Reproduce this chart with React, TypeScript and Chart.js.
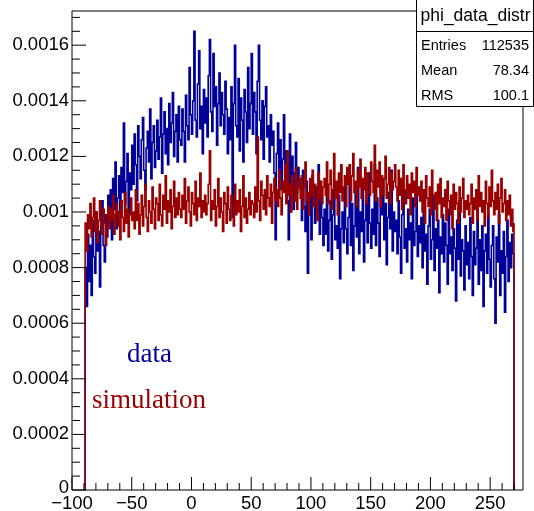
import React, { useEffect, useRef } from "react";
import { Chart, registerables } from "chart.js";

Chart.register(...registerables);

// Histogram binning (phi in degrees)
const X_MIN = -90;
const BIN_WIDTH = 1;
// bin contents are given in units of 1e-5 (normalised)
const UNIT = 1e-5;

// "data" histogram, bins from -90 to 270 (1 degree each)
const dataValues = [
  80, 66, 92, 75, 88, 70, 97, 84, 78, 100, 86, 93, 73, 95, 104, 88, 82, 99, 91, 106,
  96, 108, 90, 112, 101, 118, 94, 105, 113, 99, 116, 107, 132, 103, 111, 121, 98, 114, 108, 124,
  110, 128, 117, 104, 131, 120, 112, 126, 134, 115, 108, 123, 129, 118, 137, 112, 125, 131, 116, 122,
  133, 119, 127, 141, 114, 128, 136, 121, 130, 117, 139, 125, 132, 143, 120, 129, 135, 118, 138, 126,
  124, 137, 129, 118, 142, 131, 126, 152, 135, 128, 140, 165, 133, 127, 146, 158, 130, 138, 121, 144,
  132, 141, 127, 149, 162, 136, 129, 157, 138, 145, 124, 139, 150, 131, 143, 135, 128, 147, 137, 121,
  134, 126, 145, 98, 139, 160, 131, 127, 148, 122, 141, 133, 118, 144, 136, 125, 152, 130, 139, 157,
  128, 143, 136, 121, 147, 160, 133, 126, 140, 119, 138, 145, 127, 131, 118, 135, 124, 129, 114, 90,
  121, 132, 113, 126, 108, 119, 135, 115, 122, 104, 90, 128, 110, 120, 101, 114, 125, 107, 116, 111,
  108, 97, 115, 102, 93, 111, 78, 99, 106, 90, 113, 103, 96, 109, 100, 117, 92, 105, 98, 88,
  101, 92, 108, 86, 97, 104, 83, 99, 111, 90, 95, 87, 106, 76, 94, 100, 89, 109, 94, 85,
  98, 112, 88, 103, 79, 95, 107, 91, 116, 85, 100, 93, 110, 82, 97, 104, 89, 114, 96, 87,
  101, 92, 117, 88, 105, 96, 84, 109, 99, 112, 90, 103, 81, 98, 107, 94, 115, 86, 100, 93,
  97, 85, 104, 91, 78, 99, 108, 87, 94, 82, 101, 90, 96, 76, 105, 88, 93, 110, 84, 95,
  89, 98, 80, 103, 86, 92, 74, 95, 101, 83, 90, 106, 79, 94, 87, 97, 71, 91, 85, 99,
  82, 96, 88, 74, 101, 85, 91, 79, 94, 87, 68, 97, 83, 104, 77, 90, 86, 72, 95, 81,
  89, 76, 98, 84, 70, 93, 81, 87, 102, 74, 90, 79, 95, 66, 86, 92, 78, 99, 83, 73,
  88, 95, 76, 60, 91, 82, 99, 70, 86, 78, 93, 64, 84, 97, 75, 89, 80, 92, 85, 81,
];

// "simulation" histogram, same binning
const simValues = [
  96, 86, 99, 94, 103, 91, 98, 105, 93, 100, 89, 97, 104, 95, 92, 101, 96, 88, 99, 102,
  94, 101, 97, 106, 92, 99, 103, 95, 100, 90, 104, 98, 93, 107, 96, 101, 91, 99, 105, 97,
  100, 94, 108, 97, 103, 92, 99, 106, 95, 102, 110, 98, 93, 104, 100, 96, 109, 101, 94, 105,
  103, 97, 110, 99, 95, 106, 101, 113, 96, 104, 100, 108, 94, 102, 111, 98, 105, 99, 107, 101,
  98, 106, 101, 112, 96, 104, 109, 100, 95, 107, 103, 99, 111, 97, 105, 102, 114, 98, 104, 100,
  106, 99, 103, 110, 122, 97, 104, 101, 108, 95, 102, 112, 98, 105, 100, 93, 107, 103, 96, 109,
  101, 97, 106, 103, 95, 110, 99, 104, 100, 108, 93, 102, 113, 98, 105, 96, 101, 107, 99, 104,
  103, 98, 109, 100, 127, 104, 97, 111, 106, 101, 108, 99, 113, 105, 102, 110, 96, 107, 112, 104,
  108, 102, 115, 105, 99, 111, 107, 117, 103, 122, 106, 110, 100, 113, 108, 104, 116, 101, 109, 112,
  105, 113, 101, 109, 118, 104, 107, 99, 112, 106, 115, 102, 110, 108, 97, 114, 105, 111, 103, 109,
  112, 106, 118, 103, 110, 115, 101, 108, 121, 105, 111, 99, 114, 107, 117, 104, 109, 113, 102, 116,
  110, 117, 104, 113, 121, 107, 111, 102, 115, 109, 119, 105, 112, 108, 116, 103, 114, 110, 106, 118,
  111, 107, 124, 104, 115, 109, 118, 102, 113, 106, 112, 120, 105, 110, 116, 103, 114, 108, 111, 117,
  109, 104, 115, 106, 112, 101, 117, 108, 103, 113, 105, 110, 99, 114, 107, 111, 102, 116, 106, 109,
  104, 111, 100, 108, 96, 113, 105, 102, 109, 99, 115, 106, 101, 107, 97, 110, 103, 112, 98, 105,
  102, 108, 97, 111, 104, 99, 106, 94, 110, 101, 107, 103, 96, 109, 100, 105, 112, 98, 104, 101,
  106, 99, 103, 110, 96, 105, 101, 108, 97, 113, 102, 107, 100, 104, 95, 111, 103, 98, 109, 102,
  115, 104, 99, 107, 101, 110, 96, 105, 112, 100, 103, 108, 97, 104, 99, 106, 95, 101, 93, 96,
];

const xTickValues = [-100, -50, 0, 50, 100, 150, 200, 250];
const xTickLabels = ["\u2212100", "\u221250", "0", "50", "100", "150", "200", "250"];
const yTickValues = [0, 0.0002, 0.0004, 0.0006, 0.0008, 0.001, 0.0012, 0.0014, 0.0016];
const yTickLabels = ["0", "0.0002", "0.0004", "0.0006", "0.0008", "0.001", "0.0012", "0.0014", "0.0016"];

const statsTitle = "phi_data_distr";
const statsNames = ["Entries", "Mean", "RMS"];
const statsNumbers = ["112535", "78.34", "100.1"];

const legendTexts = ["data", "simulation"];
const BLUE = "#000099";
const RED = "#990000";

const X_AXIS_MIN = -100;
const X_AXIS_MAX = 277.5;
const Y_AXIS_MAX = 0.001723;

function histPoints(values: number[]) {
  const pts: { x: number; y: number }[] = [{ x: X_MIN, y: 0 }];
  values.forEach((v, i) => pts.push({ x: X_MIN + (i + 1) * BIN_WIDTH, y: v * UNIT }));
  pts.push({ x: X_MIN + values.length * BIN_WIDTH, y: 0 });
  return pts;
}

const rootPlugin = {
  id: "rootDecor",
  afterDraw(chart: any) {
    const ctx = chart.ctx as CanvasRenderingContext2D;
    const xs = chart.scales.x;
    const ys = chart.scales.y;
    const a = chart.chartArea;
    const L = Math.round(a.left), R = Math.round(a.right), T = Math.round(a.top), B = Math.round(a.bottom);
    ctx.save();
    ctx.strokeStyle = "#000";
    ctx.lineWidth = 1;
    // frame
    ctx.beginPath();
    ctx.moveTo(L, T); ctx.lineTo(R, T); ctx.lineTo(R, B); ctx.lineTo(L, B); ctx.closePath();
    ctx.stroke();
    // y ticks
    ctx.beginPath();
    for (let k = 0; k * 0.00005 <= Y_AXIS_MAX + 1e-12; k++) {
      const y = ys.getPixelForValue(k * 0.00005);
      const len = k % 4 === 0 ? 14 : 8;
      ctx.moveTo(L, y); ctx.lineTo(L + len, y);
    }
    // x ticks
    for (let v = -100; v <= X_AXIS_MAX; v += 10) {
      const x = xs.getPixelForValue(v);
      const len = v % 50 === 0 ? 13 : 7;
      ctx.moveTo(x, B); ctx.lineTo(x, B - len);
    }
    ctx.stroke();
    // labels
    ctx.fillStyle = "#000";
    ctx.font = '18.5px "Liberation Sans", Arial, sans-serif';
    ctx.textAlign = "right";
    ctx.textBaseline = "middle";
    yTickValues.forEach((v, i) => {
      ctx.fillText(yTickLabels[i], 69, ys.getPixelForValue(v) + (i === 0 ? -2 : 0));
    });
    ctx.textAlign = "center";
    ctx.textBaseline = "alphabetic";
    xTickValues.forEach((v, i) => {
      ctx.fillText(xTickLabels[i], xs.getPixelForValue(v), 509);
    });
    // stats box
    const bx = 416, bw = 117, bTop = -1, bBot = 106, sep = 31;
    ctx.fillStyle = "#fff";
    ctx.fillRect(bx, 0, bw, bBot);
    ctx.beginPath();
    ctx.rect(bx + 0.5, bTop + 0.5, bw, bBot - bTop);
    ctx.moveTo(bx, sep + 0.5); ctx.lineTo(bx + bw, sep + 0.5);
    ctx.stroke();
    ctx.fillStyle = "#000";
    ctx.font = '17.5px "Liberation Sans", Arial, sans-serif';
    ctx.textAlign = "center";
    ctx.textBaseline = "middle";
    ctx.fillText(statsTitle, bx + bw / 2 + 1, 16);
    ctx.font = '14.5px "Liberation Sans", Arial, sans-serif';
    const rowH = (bBot - sep) / statsNames.length;
    statsNames.forEach((n, i) => {
      const y = sep + rowH * (i + 0.5) + 2;
      ctx.textAlign = "left";
      ctx.fillText(n, bx + 5, y);
      ctx.textAlign = "right";
      ctx.fillText(statsNumbers[i], bx + bw - 4, y);
    });
    // legend texts
    ctx.font = '27px "Liberation Serif", "Times New Roman", serif';
    ctx.textAlign = "left";
    ctx.textBaseline = "alphabetic";
    ctx.fillStyle = BLUE;
    ctx.fillText(legendTexts[0], 127, 362);
    ctx.fillStyle = RED;
    ctx.fillText(legendTexts[1], 92, 408);
    ctx.restore();
  },
};

export default function App() {
  const ref = useRef<HTMLCanvasElement | null>(null);
  useEffect(() => {
    if (!ref.current) return;
    const chart = new Chart(ref.current, {
      type: "line",
      data: {
        datasets: [
          {
            label: "simulation",
            data: histPoints(simValues),
            borderColor: RED,
            borderWidth: 1.6,
            pointRadius: 0,
            fill: false,
            stepped: "before",
          },
          {
            label: "data",
            data: histPoints(dataValues),
            borderColor: BLUE,
            borderWidth: 1.6,
            pointRadius: 0,
            fill: false,
            stepped: "before",
          },
        ],
      },
      options: {
        animation: false,
        responsive: false,
        events: [],
        layout: { padding: { left: 72, top: 11, right: 11, bottom: 21 } },
        scales: {
          x: { type: "linear", min: X_AXIS_MIN, max: X_AXIS_MAX, display: false },
          y: { type: "linear", min: 0, max: Y_AXIS_MAX, display: false },
        },
        plugins: { legend: { display: false }, tooltip: { enabled: false } },
      },
      plugins: [rootPlugin],
    } as any);
    return () => chart.destroy();
  }, []);
  return (
    <div style={{ position: "absolute", left: 0, top: 0, width: 534, height: 511, background: "#fff" }}>
      <canvas ref={ref} width={534} height={511} style={{ display: "block" }} />
    </div>
  );
}
